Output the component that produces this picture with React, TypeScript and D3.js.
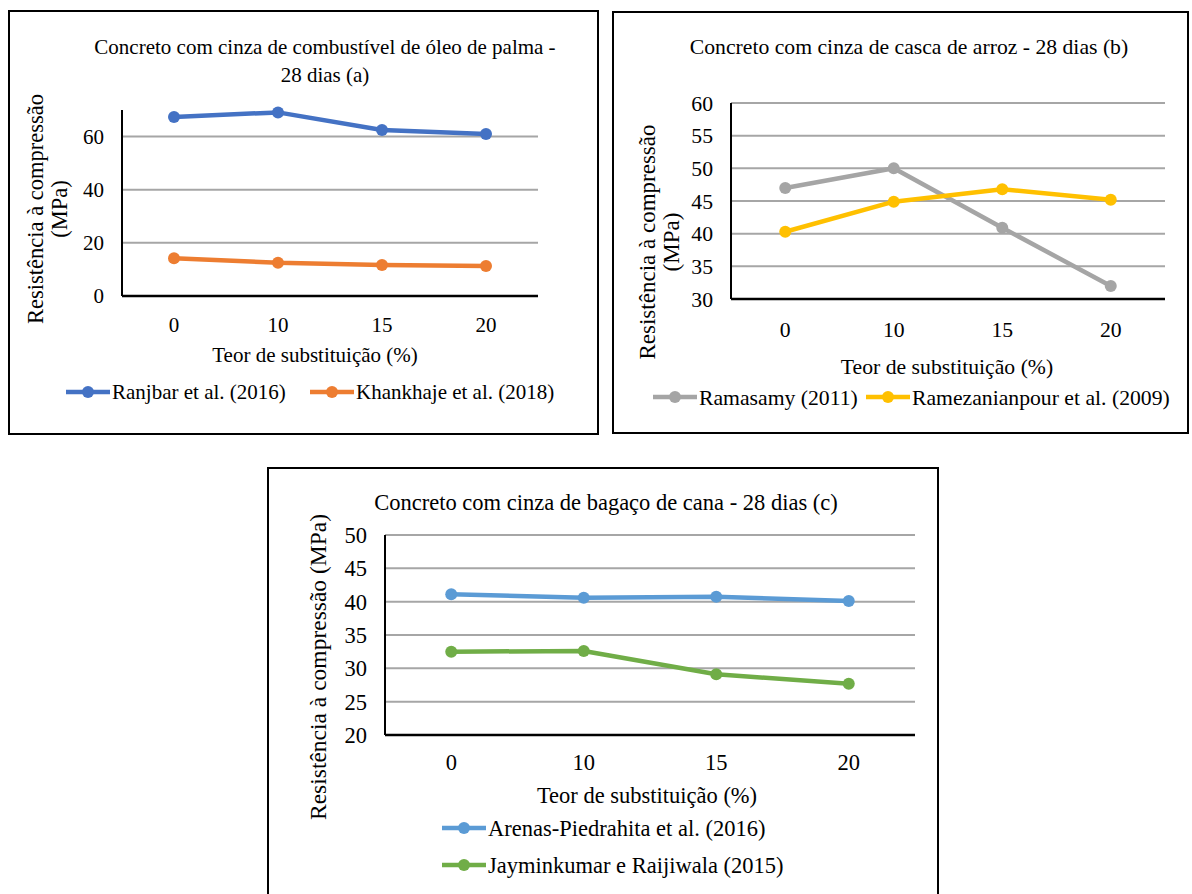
import { useEffect, useRef } from "react";
import * as d3 from "d3";

// substitution levels (%)
const categories = ["0", "10", "15", "20"];

// (a) palm oil fuel ash
const ranjbar = [67.4, 69.1, 62.5, 61];
const khankhaje = [14.2, 12.5, 11.7, 11.3];
// (b) rice husk ash
const ramasamy = [47, 50, 40.9, 32];
const ramezanianpour = [40.3, 44.9, 46.8, 45.2];
// (c) sugarcane bagasse ash
const arenas = [41.1, 40.6, 40.75, 40.1];
const jayminkumar = [32.5, 32.6, 29.1, 27.7];

const ticksA = [0, 20, 40, 60];
const ticksB = [30, 35, 40, 45, 50, 55, 60];
const ticksC = [20, 25, 30, 35, 40, 45, 50];

const FONT = "Liberation Serif, Times New Roman, serif";

const panels = [
  {
    box: [9, 11, 589, 423],
    plot: { left: 122, top: 110, right: 538, bottom: 296 },
    domain: [0, 70], ticks: ticksA, fs: 21, yfs: 22.5,
    title: ["Concreto com cinza de combustível de óleo de palma -", "28 dias (a)"],
    titleX: 325, titleY: 54,
    ylabel: ["Resistência à compressão", "(MPa)"], ylabelX: 43, ylabelY: 209,
    xlabelX: 315, xlabelY: 362, tickY: 332,
    series: [
      { name: "Ranjbar et al. (2016)", values: ranjbar, color: "#4472C4", lx: 66, ly: 392 },
      { name: "Khankhaje et al. (2018)", values: khankhaje, color: "#ED7D31", lx: 310, ly: 392 },
    ],
  },
  {
    box: [613, 12, 575, 421],
    plot: { left: 731, top: 103, right: 1165, bottom: 299 },
    domain: [30, 60], ticks: ticksB, fs: 21.7, yfs: 23,
    title: ["Concreto com cinza de casca de arroz - 28 dias (b)"],
    titleX: 909, titleY: 54,
    ylabel: ["Resistência à compressão", "(MPa)"], ylabelX: 655, ylabelY: 242,
    xlabelX: 947, xlabelY: 374, tickY: 337,
    series: [
      { name: "Ramasamy (2011)", values: ramasamy, color: "#A5A5A5", lx: 653, ly: 397 },
      { name: "Ramezanianpour et al. (2009)", values: ramezanianpour, color: "#FFC000", lx: 866, ly: 397 },
    ],
  },
  {
    box: [268, 468, 670, 440],
    plot: { left: 385, top: 535, right: 915, bottom: 735 },
    domain: [20, 50], ticks: ticksC, fs: 22.5, yfs: 23.5,
    title: ["Concreto com cinza de bagaço de cana - 28 dias (c)"],
    titleX: 606, titleY: 510,
    ylabel: ["Resistência à compressão (MPa)"], ylabelX: 326, ylabelY: 667,
    xlabelX: 647, xlabelY: 803, tickY: 770,
    series: [
      { name: "Arenas-Piedrahita et al. (2016)", values: arenas, color: "#5B9BD5", lx: 442, ly: 828 },
      { name: "Jayminkumar e Raijiwala (2015)", values: jayminkumar, color: "#70AD47", lx: 442, ly: 865 },
    ],
  },
];

export default function App() {
  const ref = useRef<SVGSVGElement>(null);

  useEffect(() => {
    const svg = d3.select(ref.current);
    svg.selectAll("*").remove();
    svg.append("rect").attr("width", 1192).attr("height", 894).attr("fill", "#fff");

    const label = (sel: any, size: number) =>
      sel.style("font-family", FONT).style("font-size", size + "px").attr("fill", "#000");

    panels.forEach((p) => {
      const g = svg.append("g");
      const [bx, by, bw, bh] = p.box;
      g.append("rect")
        .attr("x", bx).attr("y", by).attr("width", bw).attr("height", bh)
        .attr("fill", "#fff").attr("stroke", "#000").attr("stroke-width", 2);

      const x = d3.scaleBand().domain(categories).range([p.plot.left, p.plot.right]);
      const y = d3.scaleLinear().domain(p.domain).range([p.plot.bottom, p.plot.top]);
      const cx = (i: number) => x(categories[i])! + x.bandwidth() / 2;

      // gridlines
      g.selectAll(".grid")
        .data(p.ticks.filter((t) => t !== p.domain[0]))
        .enter().append("line")
        .attr("x1", p.plot.left).attr("x2", p.plot.right)
        .attr("y1", (d) => y(d)).attr("y2", (d) => y(d))
        .attr("stroke", "#A6A6A6").attr("stroke-width", 2);

      // axes
      g.append("line")
        .attr("x1", p.plot.left).attr("x2", p.plot.left)
        .attr("y1", p.plot.top).attr("y2", p.plot.bottom)
        .attr("stroke", "#000").attr("stroke-width", 2);
      g.append("line")
        .attr("x1", p.plot.left).attr("x2", p.plot.right)
        .attr("y1", p.plot.bottom).attr("y2", p.plot.bottom)
        .attr("stroke", "#000").attr("stroke-width", 2.5);

      // y tick labels
      g.selectAll(".ytick")
        .data(p.ticks)
        .enter().append("text")
        .attr("x", p.plot.left - 18).attr("y", (d) => y(d))
        .attr("dy", "0.35em").attr("text-anchor", "end")
        .call(label, p.fs)
        .text((d) => d);

      // x tick labels
      g.selectAll(".xtick")
        .data(categories)
        .enter().append("text")
        .attr("x", (d) => x(d)! + x.bandwidth() / 2).attr("y", p.tickY)
        .attr("text-anchor", "middle")
        .call(label, p.fs)
        .text((d) => d);

      // title
      p.title.forEach((t, i) => {
        g.append("text")
          .attr("x", p.titleX).attr("y", p.titleY + i * 28)
          .attr("text-anchor", "middle")
          .call(label, p.fs)
          .text(t);
      });

      // axis titles
      g.append("text")
        .attr("x", p.xlabelX).attr("y", p.xlabelY)
        .attr("text-anchor", "middle")
        .call(label, p.fs)
        .text("Teor de substituição (%)");
      p.ylabel.forEach((t, i) => {
        g.append("text")
          .attr("transform", `translate(${p.ylabelX + i * 24},${p.ylabelY}) rotate(-90)`)
          .attr("text-anchor", "middle")
          .call(label, p.yfs)
          .text(t);
      });

      const line = d3.line<number>()
        .x((_, i) => cx(i))
        .y((d) => y(d));

      p.series.forEach((s) => {
        g.append("path")
          .datum(s.values)
          .attr("fill", "none").attr("stroke", s.color)
          .attr("stroke-width", 4.5).attr("stroke-linejoin", "round")
          .attr("d", line);
        g.selectAll(null)
          .data(s.values)
          .enter().append("circle")
          .attr("cx", (_, i) => cx(i))
          .attr("cy", (d) => y(d))
          .attr("r", 6)
          .attr("fill", s.color);

        // legend
        const lg = g.append("g").attr("transform", `translate(${s.lx},${s.ly})`);
        lg.append("line").attr("x1", 0).attr("x2", 44).attr("y1", 0).attr("y2", 0)
          .attr("stroke", s.color).attr("stroke-width", 4.5);
        lg.append("circle").attr("cx", 22).attr("cy", 0).attr("r", 6).attr("fill", s.color);
        lg.append("text").attr("x", 46).attr("y", 0).attr("dy", "0.35em")
          .call(label, p.fs)
          .text(s.name);
      });
    });
  }, []);

  return (
    <div>
      <style>{"body{margin:0}"}</style>
      <svg ref={ref} width={1192} height={894} style={{ display: "block" }}></svg>
    </div>
  );
}
